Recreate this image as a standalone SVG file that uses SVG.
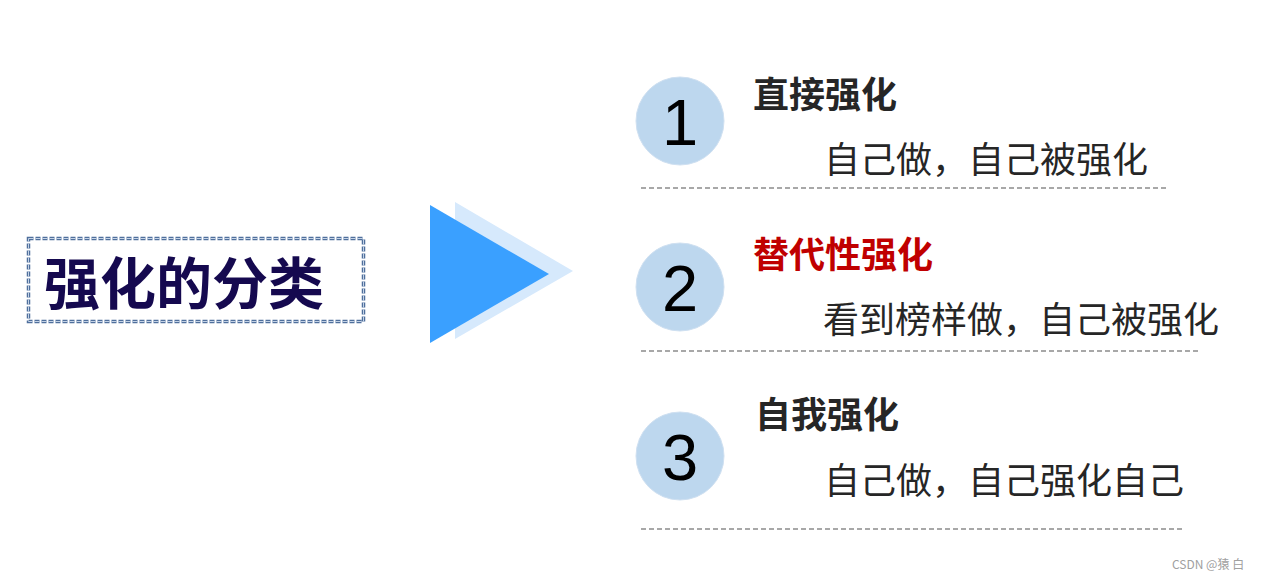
<svg xmlns="http://www.w3.org/2000/svg" width="1262" height="581" viewBox="0 0 1262 581">
<style>
.cjk{font-family:"Noto Sans CJK SC","Noto Sans",sans-serif}
.head{font-size:36px;font-weight:bold;fill:#262626}
.sub{font-size:36px;fill:#262626}
.num{font-family:"Liberation Sans",Arial,sans-serif;font-size:65px;fill:#000;text-anchor:middle}
.circ{fill:#BDD7EE;stroke:#CFE0F1;stroke-width:1}
.sep{stroke:#8C8C8C;stroke-width:1.3;stroke-dasharray:5 3;fill:none}
</style>
<rect width="1262" height="581" fill="#FFFFFF"/>
<g id="title">
<rect x="28.5" y="238.5" width="335" height="83" fill="none" stroke="#4F6F9C" stroke-width="3.5" stroke-dasharray="5 2"/>
<rect x="28.5" y="238.5" width="335" height="83" fill="none" stroke="#C3D2E6" stroke-width="1" stroke-dasharray="5 2"/>
<text class="cjk" x="44" y="304" font-size="56" font-weight="bold" fill="#15094F">强化的分类</text>
</g>
<g id="arrow">
<polygon points="455,202 455,339 573,271" fill="#D6E9FC"/>
<polygon points="430,205 430,343 549,274" fill="#3AA0FF"/>
</g>
<g id="item1">
<circle class="circ" cx="680" cy="121" r="44"/>
<text class="num" x="680" y="145">1</text>
<text class="cjk head" x="753" y="108">直接强化</text>
<text class="cjk sub" x="824" y="173">自己做，自己被强化</text>
</g>
<g id="item2">
<circle class="circ" cx="680" cy="287" r="44"/>
<text class="num" x="680" y="311">2</text>
<text class="cjk head" x="753" y="268" style="fill:#C00000">替代性强化</text>
<text class="cjk sub" x="823" y="333">看到榜样做，自己被强化</text>
</g>
<g id="item3">
<circle class="circ" cx="680" cy="456" r="44"/>
<text class="num" x="680" y="480">3</text>
<text class="cjk head" x="755" y="428">自我强化</text>
<text class="cjk sub" x="824" y="494">自己做，自己强化自己</text>
</g>
<g id="connectors">
<line class="sep" x1="641" y1="188" x2="1168" y2="188"/>
<line class="sep" x1="641" y1="351" x2="1201" y2="351"/>
<line class="sep" x1="641" y1="529" x2="1183" y2="529"/>
</g>
<text class="cjk" x="1172" y="569" font-size="12" fill="#A0A0A0">CSDN @猿 白</text>
</svg>
